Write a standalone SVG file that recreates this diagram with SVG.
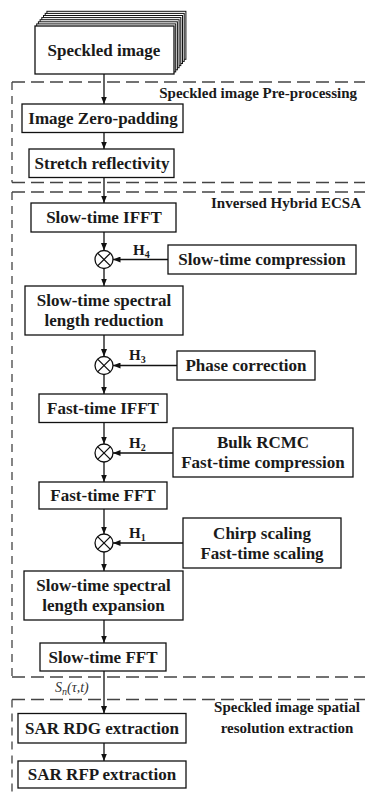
<svg xmlns="http://www.w3.org/2000/svg" width="365" height="792" viewBox="0 0 365 792">
<defs>
<marker id="ah" markerUnits="userSpaceOnUse" markerWidth="8" markerHeight="6" refX="7.5" refY="3" orient="auto">
<path d="M0,0 L7.5,3 L0,6 z" fill="#111"/>
</marker>
</defs>
<style>
.box{fill:#fff;stroke:#111;stroke-width:1.3}
.lay{fill:#fff;stroke:#111;stroke-width:1}
.t{font-family:"Liberation Serif","Times New Roman",serif;font-weight:bold;font-size:17px;fill:#1a1a1a;text-anchor:middle}
.lab{font-family:"Liberation Serif","Times New Roman",serif;font-weight:bold;font-size:15px;fill:#1a1a1a}
.h{font-family:"Liberation Serif","Times New Roman",serif;font-weight:bold;font-size:15px;fill:#1a1a1a}
.sub{font-size:10px}
.dh{fill:none;stroke:#444;stroke-width:1.3;stroke-dasharray:13 6}
.dv{fill:none;stroke:#444;stroke-width:1.3;stroke-dasharray:8 6}
.c{stroke:#111;stroke-width:1.3;fill:none}
.mul{fill:#fff;stroke:#111;stroke-width:1.3}
</style>

<g id="groups">
<path class="dh" d="M12,82 H365"/>
<path class="dv" d="M12,82 V182.5"/>
<path class="dh" d="M12,182.5 H365"/>
<path class="dh" d="M12,192 H365"/>
<path class="dv" d="M12,192 V677"/>
<path class="dh" d="M12,677 H365"/>
<path class="dh" d="M12,699.5 H365"/>
<path class="dv" d="M12,699.5 V792"/>
<text class="lab" x="357" y="98" text-anchor="end">Speckled image Pre-processing</text>
<text class="lab" x="361" y="208" text-anchor="end">Inversed Hybrid ECSA</text>
<text class="lab" x="287" y="712" text-anchor="middle">Speckled image spatial</text>
<text class="lab" x="287" y="733" text-anchor="middle">resolution extraction</text>
</g>

<g id="connectors">
<line class="c" x1="104" y1="74" x2="104" y2="104" marker-end="url(#ah)"/>
<line class="c" x1="104" y1="132.5" x2="104" y2="149" marker-end="url(#ah)"/>
<line class="c" x1="104" y1="177.5" x2="104" y2="203" marker-end="url(#ah)"/>
<line class="c" x1="104" y1="232" x2="104" y2="250.5" marker-end="url(#ah)"/>
<line class="c" x1="104" y1="268.5" x2="104" y2="286" marker-end="url(#ah)"/>
<line class="c" x1="104" y1="335" x2="104" y2="356.5" marker-end="url(#ah)"/>
<line class="c" x1="104" y1="374.5" x2="104" y2="394" marker-end="url(#ah)"/>
<line class="c" x1="104" y1="422.5" x2="104" y2="444" marker-end="url(#ah)"/>
<line class="c" x1="104" y1="462" x2="104" y2="482" marker-end="url(#ah)"/>
<line class="c" x1="104" y1="509" x2="104" y2="534" marker-end="url(#ah)"/>
<line class="c" x1="104" y1="552" x2="104" y2="571" marker-end="url(#ah)"/>
<line class="c" x1="104" y1="620" x2="104" y2="643" marker-end="url(#ah)"/>
<line class="c" x1="104" y1="671" x2="104" y2="713.5" marker-end="url(#ah)"/>
<line class="c" x1="104" y1="743" x2="104" y2="761" marker-end="url(#ah)"/>
<line class="c" x1="168" y1="259.5" x2="113" y2="259.5" marker-end="url(#ah)"/>
<line class="c" x1="177" y1="365.5" x2="113" y2="365.5" marker-end="url(#ah)"/>
<line class="c" x1="173" y1="453" x2="113" y2="453" marker-end="url(#ah)"/>
<line class="c" x1="183" y1="543" x2="113" y2="543" marker-end="url(#ah)"/>
<text class="h" x="133" y="255">H<tspan class="sub" dy="3">4</tspan></text>
<text class="h" x="129" y="360">H<tspan class="sub" dy="3">3</tspan></text>
<text class="h" x="129" y="447.5">H<tspan class="sub" dy="3">2</tspan></text>
<text class="h" x="129" y="537.5">H<tspan class="sub" dy="3">1</tspan></text>
<text x="55" y="692" font-family="Liberation Serif,serif" font-style="italic" font-size="14" fill="#333">S<tspan font-size="10" dy="3">n</tspan><tspan dy="-3">(τ,t)</tspan></text>
</g>

<g id="speckled">
<rect class="lay" x="46.9" y="11.3" width="139" height="48"/>
<rect class="lay" x="45.2" y="13.4" width="139" height="48"/>
<rect class="lay" x="43.5" y="15.5" width="139" height="48"/>
<rect class="lay" x="41.8" y="17.6" width="139" height="48"/>
<rect class="lay" x="40.1" y="19.7" width="139" height="48"/>
<rect class="lay" x="38.4" y="21.8" width="139" height="48"/>
<rect class="lay" x="36.7" y="23.9" width="139" height="48"/>
<rect class="box" x="35" y="26" width="139" height="48"/>
<text class="t" x="104" y="56">Speckled image</text>
</g>

<g id="zeropad"><rect class="box" x="22" y="104" width="161" height="28.5"/><text class="t" x="103" y="124">Image Zero-padding</text></g>
<g id="stretch"><rect class="box" x="29" y="149" width="145" height="28.5"/><text class="t" x="102" y="169">Stretch reflectivity</text></g>
<g id="slowifft"><rect class="box" x="31" y="203" width="145" height="29"/><text class="t" x="104" y="223">Slow-time IFFT</text></g>
<g id="mulH4"><circle class="mul" cx="104" cy="259.5" r="9"/><path class="c" d="M97.6,253.1 L110.4,265.9 M110.4,253.1 L97.6,265.9"/></g>
<g id="slowcomp"><rect class="box" x="168" y="245" width="188" height="29"/><text class="t" x="262" y="265">Slow-time compression</text></g>
<g id="reduction"><rect class="box" x="25" y="286" width="158" height="49"/><text class="t" x="104" y="306">Slow-time spectral</text><text class="t" x="104" y="326">length reduction</text></g>
<g id="mulH3"><circle class="mul" cx="104" cy="365.5" r="9"/><path class="c" d="M97.6,359.1 L110.4,371.9 M110.4,359.1 L97.6,371.9"/></g>
<g id="phase"><rect class="box" x="177" y="351" width="138" height="29"/><text class="t" x="246" y="371">Phase correction</text></g>
<g id="fastifft"><rect class="box" x="39" y="394" width="128" height="28.5"/><text class="t" x="103" y="414">Fast-time IFFT</text></g>
<g id="mulH2"><circle class="mul" cx="104" cy="453" r="9"/><path class="c" d="M97.6,446.6 L110.4,459.4 M110.4,446.6 L97.6,459.4"/></g>
<g id="bulk"><rect class="box" x="173" y="428" width="180" height="49"/><text class="t" x="263" y="448">Bulk RCMC</text><text class="t" x="263" y="468">Fast-time compression</text></g>
<g id="fastfft"><rect class="box" x="39" y="482" width="128" height="27"/><text class="t" x="103" y="501">Fast-time FFT</text></g>
<g id="mulH1"><circle class="mul" cx="104" cy="543" r="9"/><path class="c" d="M97.6,536.6 L110.4,549.4 M110.4,536.6 L97.6,549.4"/></g>
<g id="chirp"><rect class="box" x="183" y="518" width="158" height="50"/><text class="t" x="262" y="539">Chirp scaling</text><text class="t" x="262" y="559">Fast-time scaling</text></g>
<g id="expansion"><rect class="box" x="24" y="571" width="159" height="49"/><text class="t" x="103.5" y="591">Slow-time spectral</text><text class="t" x="103.5" y="611">length expansion</text></g>
<g id="slowfft"><rect class="box" x="40" y="643" width="126" height="28"/><text class="t" x="103" y="663">Slow-time FFT</text></g>
<g id="rdg"><rect class="box" x="18" y="713.5" width="168" height="29.5"/><text class="t" x="102" y="734">SAR RDG extraction</text></g>
<g id="rfp"><rect class="box" x="18" y="761" width="168" height="27"/><text class="t" x="102" y="780">SAR RFP extraction</text></g>
</svg>
